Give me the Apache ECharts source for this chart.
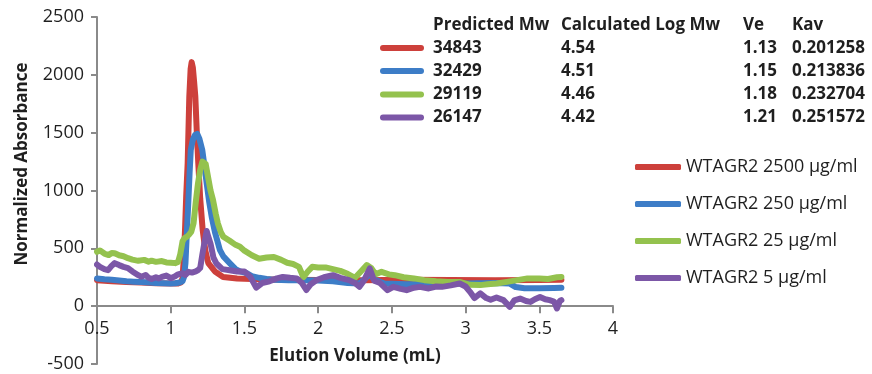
<!DOCTYPE html>
<html><head><meta charset="utf-8">
<script src="https://cdn.jsdelivr.net/npm/echarts@6/dist/echarts.min.js"></script>
<style>html,body{margin:0;padding:0;background:#fff}#c{width:872px;height:374px}</style>
</head><body><div id="c"></div>
<script>
const seriesNames = ['WTAGR2 2500 \u03bcg/ml', 'WTAGR2 250 \u03bcg/ml', 'WTAGR2 25 \u03bcg/ml', 'WTAGR2 5 \u03bcg/ml'];
const seriesColors = ['#CD403B', '#3D7DC7', '#94C24E', '#7C57A7'];

const tableHeaders = ['Predicted Mw', 'Calculated Log Mw', 'Ve', 'Kav'];
const predictedMw = ['34843', '32429', '29119', '26147'];
const logMw = ['4.54', '4.51', '4.46', '4.42'];
const veValues = ['1.13', '1.15', '1.18', '1.21'];
const kavValues = ['0.201258', '0.213836', '0.232704', '0.251572'];

const xTicks = { min: 0.5, max: 4, interval: 0.5 };
const yTicks = { min: -500, max: 2500, interval: 500 };

const red2500 = [[0.5,225],[0.6,216],[0.7,209],[0.8,204],[0.9,199],[1.0,196],[1.05,197],[1.07,206],[1.08,240],[1.088,400],[1.097,657],[1.105,950],[1.115,1237],[1.126,1810],[1.135,2050],[1.142,2110],[1.15,2065],[1.158,1950],[1.167,1810],[1.177,1500],[1.187,1237],[1.2,930],[1.217,657],[1.235,480],[1.255,372],[1.3,300],[1.355,253],[1.45,240],[1.6,232],[1.8,228],[2.0,226],[2.3,225],[2.6,228],[2.9,226],[3.2,225],[3.5,226],[3.65,228]];

const blue250 = [[0.5,240],[0.55,232],[0.6,228],[0.65,222],[0.7,215],[0.75,212],[0.8,208],[0.85,205],[0.9,200],[0.95,198],[1.0,196],[1.03,198],[1.06,205],[1.08,215],[1.09,250],[1.1,372],[1.104,484],[1.112,700],[1.12,917],[1.128,1150],[1.136,1350],[1.15,1440],[1.165,1480],[1.18,1490],[1.195,1445],[1.214,1350],[1.23,1200],[1.244,1061],[1.26,910],[1.278,773],[1.3,640],[1.334,484],[1.357,430],[1.4,372],[1.44,320],[1.47,300],[1.515,285],[1.55,260],[1.6,245],[1.65,235],[1.7,228],[1.8,225],[1.9,225],[2.0,222],[2.1,215],[2.2,200],[2.28,196],[2.32,240],[2.35,283],[2.38,230],[2.45,195],[2.6,190],[2.8,192],[3.0,195],[3.2,200],[3.3,195],[3.34,165],[3.4,155],[3.5,155],[3.6,158],[3.65,160]];

const green25 = [[0.5,470],[0.52,482],[0.55,455],[0.58,442],[0.6,460],[0.62,458],[0.65,440],[0.68,432],[0.71,415],[0.74,402],[0.78,392],[0.82,400],[0.85,385],[0.87,393],[0.9,383],[0.94,390],[0.97,378],[1.0,376],[1.03,372],[1.05,382],[1.065,450],[1.08,560],[1.095,590],[1.11,600],[1.125,620],[1.14,645],[1.155,718],[1.17,900],[1.185,1061],[1.2,1180],[1.215,1250],[1.225,1265],[1.237,1230],[1.253,1118],[1.27,1000],[1.287,917],[1.305,800],[1.32,715],[1.34,640],[1.357,600],[1.4,565],[1.44,530],[1.47,513],[1.5,480],[1.55,440],[1.6,410],[1.65,420],[1.7,425],[1.75,400],[1.79,375],[1.83,365],[1.87,340],[1.9,250],[1.93,300],[1.96,340],[2.0,335],[2.05,335],[2.1,320],[2.15,305],[2.2,280],[2.25,245],[2.29,300],[2.33,355],[2.36,330],[2.39,275],[2.43,297],[2.48,275],[2.52,268],[2.58,250],[2.65,240],[2.72,225],[2.8,215],[2.88,210],[2.96,210],[3.03,185],[3.1,182],[3.15,190],[3.21,196],[3.28,210],[3.35,225],[3.42,240],[3.5,240],[3.56,235],[3.62,250],[3.65,253]];

const purple5 = [[0.5,360],[0.52,340],[0.55,320],[0.575,311],[0.6,350],[0.62,372],[0.65,355],[0.68,340],[0.71,329],[0.74,300],[0.78,268],[0.8,255],[0.83,270],[0.85,245],[0.87,234],[0.9,250],[0.92,240],[0.94,253],[0.97,265],[1.0,242],[1.03,258],[1.05,275],[1.08,285],[1.1,270],[1.12,297],[1.145,290],[1.17,300],[1.185,311],[1.2,330],[1.215,450],[1.23,560],[1.244,650],[1.255,600],[1.27,540],[1.29,420],[1.31,369],[1.35,320],[1.4,311],[1.45,300],[1.5,300],[1.54,253],[1.58,160],[1.62,200],[1.67,215],[1.72,240],[1.76,253],[1.81,245],[1.855,240],[1.89,200],[1.92,140],[1.95,190],[1.99,225],[2.04,250],[2.1,268],[2.15,245],[2.21,225],[2.25,200],[2.28,167],[2.31,220],[2.35,326],[2.38,220],[2.42,200],[2.47,138],[2.51,167],[2.56,150],[2.6,138],[2.65,160],[2.69,167],[2.75,153],[2.8,170],[2.84,167],[2.9,180],[2.96,196],[3.0,170],[3.03,124],[3.06,70],[3.1,110],[3.14,70],[3.17,55],[3.21,75],[3.257,52],[3.3,-6],[3.33,50],[3.37,66],[3.41,45],[3.44,37],[3.47,60],[3.505,80],[3.54,60],[3.57,52],[3.6,40],[3.62,-20],[3.64,45],[3.65,52]];

const seriesData = [red2500, blue250, green25, purple5];

const FONT = '"Open Sans", "Liberation Sans", sans-serif';
const TXT = '#1f1f1f';
const AXIS = '#8a8a8a';

const GRID = { left: 97, right: 259, top: 17, bottom: 10 };
const plotH = 374 - GRID.top - GRID.bottom;
const xAxisOffset = -plotH * (0 - yTicks.min) / (yTicks.max - yTicks.min);

const tableCols = [433, 561, 743, 792];
const tableRowY = [25, 48, 71, 94.5, 117.5];
const graphics = [];
tableHeaders.forEach((h, i) => {
  graphics.push({ type: 'text', x: tableCols[i], y: tableRowY[0],
    style: { text: h, fill: TXT, font: 'bold 17px ' + FONT, verticalAlign: 'middle', align: 'left' } });
});
const tableData = [predictedMw, logMw, veValues, kavValues];
for (let r = 0; r < 4; r++) {
  graphics.push({ type: 'line', shape: { x1: 383, y1: tableRowY[r + 1], x2: 421, y2: tableRowY[r + 1] },
    style: { stroke: seriesColors[r], lineWidth: 6, lineCap: 'round' } });
  for (let c = 0; c < 4; c++) {
    graphics.push({ type: 'text', x: tableCols[c], y: tableRowY[r + 1],
      style: { text: tableData[c][r], fill: TXT, font: 'bold 17px ' + FONT, verticalAlign: 'middle', align: 'left' } });
  }
}
graphics.push({ type: 'text', x: 22, y: 164, rotation: Math.PI / 2,
  style: { text: 'Normalized Absorbance', fill: TXT, font: 'bold 17px ' + FONT, verticalAlign: 'middle', align: 'center' } });

const chart = echarts.init(document.getElementById('c'));
chart.setOption({
  animation: false,
  backgroundColor: '#fff',
  grid: { left: GRID.left, right: GRID.right, top: GRID.top, bottom: GRID.bottom, containLabel: false, outerBoundsMode: 'none' },
  xAxis: {
    type: 'value', min: xTicks.min, max: xTicks.max, interval: xTicks.interval,
    position: 'bottom', offset: xAxisOffset,
    axisLine: { onZero: false, lineStyle: { color: AXIS, width: 2 } },
    axisTick: { show: true, length: 7, lineStyle: { color: AXIS, width: 2 } },
    axisLabel: { fontSize: 18, fontFamily: FONT, color: TXT, margin: 14, formatter: v => String(v) },
    splitLine: { show: false },
    name: 'Elution Volume (mL)', nameLocation: 'middle', nameGap: 41,
    nameTextStyle: { fontSize: 17, fontWeight: 'bold', fontFamily: FONT, color: TXT }
  },
  yAxis: {
    type: 'value', min: yTicks.min, max: yTicks.max, interval: yTicks.interval,
    axisLine: { show: true, onZero: false, lineStyle: { color: AXIS, width: 2 } },
    axisTick: { show: true, length: 6, lineStyle: { color: AXIS, width: 2 } },
    axisLabel: { fontSize: 18, fontFamily: FONT, color: TXT, margin: 13, formatter: v => String(v) },
    splitLine: { show: false }
  },
  legend: {
    data: seriesNames, orient: 'vertical', left: 630, top: 153,
    itemWidth: 46, itemHeight: 6, itemGap: 19, icon: 'roundRect',
    textStyle: { fontSize: 18, fontFamily: FONT, color: TXT }
  },
  graphic: graphics,
  series: seriesNames.map((n, i) => ({
    name: n, type: 'line', data: seriesData[i], showSymbol: false, symbol: 'none',
    color: seriesColors[i],
    lineStyle: { width: 6, color: seriesColors[i], cap: 'round', join: 'round' },
    smooth: false
  }))
});
</script></body></html>
